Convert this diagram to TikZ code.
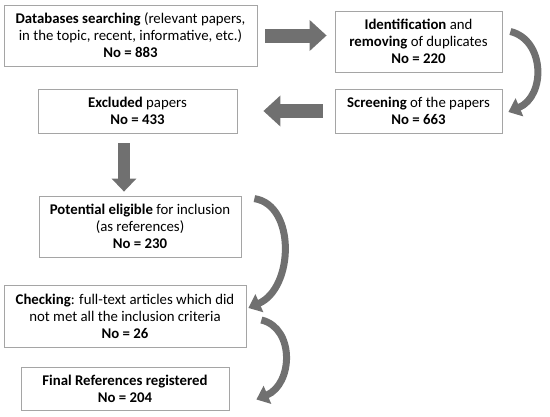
\documentclass[tikz,border=0pt]{standalone}
\usepackage{fontspec}
\setmainfont{Carlito}
\usetikzlibrary{arrows.meta}
\usetikzlibrary{calc}
\definecolor{boxline}{RGB}{165,165,165}
\definecolor{arrowgray}{RGB}{112,112,112}

\tikzset{
  stepbox/.style={draw=boxline,
                  line width=0.8pt,
                  fill=white,
                  text=black,
                  align=center,
                  inner sep=0pt,
                  font=\fontsize{14.8}{17}\selectfont},
  blockarrow/.style={draw=arrowgray,
                     line width=14pt,
                     -{Triangle[length=17pt,width=30pt]}},
  bendarrow/.style={draw=arrowgray,
                    line width=7pt,
                    -{Triangle[length=12pt,width=19pt]}}
}

\begin{document}
\begin{tikzpicture}[x=1pt,y=-1pt]
        \useasboundingbox (0,0) rectangle (550,416);
        % boxes
        \node[stepbox,
              minimum width=253pt,
              minimum height=61pt] (search) at (130.5,35.5)
              {\textbf{Databases searching} (relevant papers,\\
               in the topic, recent, informative, etc.)\\
               \textbf{No = 883}};
        \node[stepbox,
              minimum width=167pt,
              minimum height=61pt] (ident) at (418.5,41.5)
              {\textbf{Identification} and\\
               \textbf{removing} of duplicates\\
               \textbf{No = 220}};
        \node[stepbox,
              minimum width=167pt,
              minimum height=44pt] (screen) at (418.5,111)
              {\textbf{Screening} of the papers\\
               \textbf{No = 663}};
        \node[stepbox,
              minimum width=199pt,
              minimum height=44pt] (excl) at (137.5,111)
              {\textbf{Excluded} papers\\
               \textbf{No = 433}};
        \node[stepbox,
              minimum width=202pt,
              minimum height=61pt] (elig) at (140,226.5)
              {\textbf{Potential eligible} for inclusion\\
               (as references)\\
               \textbf{No = 230}};
        \node[stepbox,
              minimum width=242pt,
              minimum height=62pt] (check) at (125,316)
              {\textbf{Checking}: full-text articles which did\\
               not met all the inclusion criteria\\
               \textbf{No = 26}};
        \node[stepbox,
              minimum width=208pt,
              minimum height=43pt] (final) at (125,388.5)
              {\textbf{Final References registered}\\
               \textbf{No = 204}};
        % straight arrows
        \draw[blockarrow] ($(search.east)+(8,0)$) -- ($(search.east -| ident.west)+(-8,0)$);
        \draw[blockarrow] ($(screen.west)+(-12,0)$) -- ($(excl.east)+(26,0)$);
        \draw[blockarrow,
              line width=12pt,
              -{Triangle[length=13pt,width=24pt]}] ($(excl.south)+(-13.5,10)$) -- ($(elig.north)+(-16,-4)$);
        % bent arrows
        \draw[bendarrow] ($(ident.east)+(8,-10)$) .. controls (545,40) and (546,96) .. ($(screen.east)+(6,1)$);
        \draw[bendarrow] ($(elig.north east)+(13,3)$) .. controls (296,205) and (294,288) .. ($(check.east)+(2,-8)$);
        \draw[bendarrow] ($(check.east)+(15,4)$) .. controls (295,328) and (293,384) .. ($(final.east)+(27,11)$);
\end{tikzpicture}
\end{document}
